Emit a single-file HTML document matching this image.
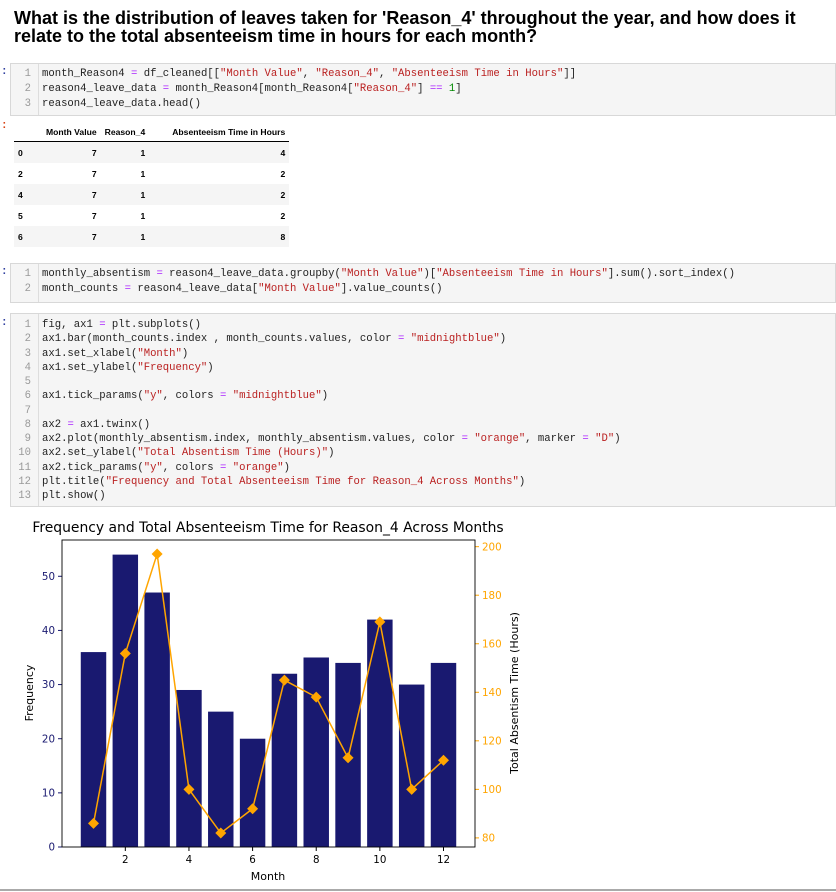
<!DOCTYPE html>
<html><head><meta charset="utf-8"><style>
body{margin:0;width:836px;height:892px;background:#fff;position:relative;overflow:hidden;font-family:"Liberation Sans",sans-serif}
.abs{position:absolute}
h1{position:absolute;left:14px;top:10px;margin:0;font-size:18px;line-height:17.5px;font-weight:bold;color:#000;width:820px}
.cell{position:absolute;left:10px;right:0;background:#f5f5f5;border:1px solid #d8d8d8}
.gut{position:absolute;left:0;top:0;bottom:0;width:27px;border-right:1px solid #ddd}
.ln{position:absolute;font-family:"Liberation Mono",monospace;font-size:10.6px;white-space:pre;color:#222}
.num{color:#999;width:20px;text-align:right;left:0}
.s{color:#ba2121}.o{color:#aa22ff}.n{color:#080}
.prompt{position:absolute;left:1px;font-family:"Liberation Mono",monospace;font-size:11px;color:#303f9f;font-weight:bold}
table{position:absolute;left:14px;top:122px;border-collapse:collapse;font-size:8.6px;font-weight:bold;color:#000}
th{padding:0 4px;height:19px;text-align:right;border-bottom:1px solid #000}
td{padding:0 4px;height:21px;text-align:right}
tr.g td{background:#f5f5f5}
td.i{text-align:left;width:20px}
</style></head><body>
<h1>What is the distribution of leaves taken for 'Reason_4' throughout the year, and how does it relate to the total absenteeism time in hours for each month?</h1>

<div class="prompt" style="top:66px">:</div>
<div class="cell" style="top:63px;height:51px">
<div class="gut"></div>
<div class="ln num" style="top:4px">1</div><div class="ln" style="left:31px;top:4px">month_Reason4 <span class="o">=</span> df_cleaned[[<span class="s">"Month Value"</span>, <span class="s">"Reason_4"</span>, <span class="s">"Absenteeism Time in Hours"</span>]]</div>
<div class="ln num" style="top:19px">2</div><div class="ln" style="left:31px;top:19px">reason4_leave_data <span class="o">=</span> month_Reason4[month_Reason4[<span class="s">"Reason_4"</span>] <span class="o">==</span> <span class="n">1</span>]</div>
<div class="ln num" style="top:34px">3</div><div class="ln" style="left:31px;top:34px">reason4_leave_data.head()</div>
</div>
<div class="prompt" style="top:120px;color:#d84315">:</div>
<table>
<tr><th></th><th>Month Value</th><th>Reason_4</th><th style="width:132px">Absenteeism Time in Hours</th></tr>
<tr class="g"><td class="i">0</td><td>7</td><td>1</td><td>4</td></tr>
<tr><td class="i">2</td><td>7</td><td>1</td><td>2</td></tr>
<tr class="g"><td class="i">4</td><td>7</td><td>1</td><td>2</td></tr>
<tr><td class="i">5</td><td>7</td><td>1</td><td>2</td></tr>
<tr class="g"><td class="i">6</td><td>7</td><td>1</td><td>8</td></tr>
</table>

<div class="prompt" style="top:266px">:</div>
<div class="cell" style="top:263px;height:38px">
<div class="gut"></div>
<div class="ln num" style="top:4px">1</div><div class="ln" style="left:31px;top:4px">monthly_absentism <span class="o">=</span> reason4_leave_data.groupby(<span class="s">"Month Value"</span>)[<span class="s">"Absenteeism Time in Hours"</span>].sum().sort_index()</div>
<div class="ln num" style="top:19px">2</div><div class="ln" style="left:31px;top:19px">month_counts <span class="o">=</span> reason4_leave_data[<span class="s">"Month Value"</span>].value_counts()</div>
</div>

<div class="prompt" style="top:317px">:</div>
<div class="cell" style="top:313px;height:192px">
<div class="gut"></div>
<div id="c3"></div>
</div>

<svg class="abs" style="left:0;top:510px" width="836" height="382" font-family="DejaVu Sans, Liberation Sans, sans-serif">
<text x="268" y="22" font-size="13.9" text-anchor="middle" fill="#000">Frequency and Total Absenteeism Time for Reason_4 Across Months</text>
<g id="bars"></g><g id="axes"></g><g id="line"></g>
<rect x="62" y="30" width="413" height="307" fill="none" stroke="#000" stroke-width="0.9"/>
<text x="268" y="370" font-size="11" text-anchor="middle">Month</text>
<text transform="translate(33,183) rotate(-90)" font-size="11" text-anchor="middle">Frequency</text>
<text transform="translate(518,183) rotate(-90)" font-size="11" text-anchor="middle">Total Absentism Time (Hours)</text>
<line x1="0" y1="380" x2="836" y2="380" stroke="#aaa" stroke-width="2"/>
</svg>
<script>
const codeLines=[
'fig, ax1 = plt.subplots()',
'ax1.bar(month_counts.index , month_counts.values, color = "midnightblue")',
'ax1.set_xlabel("Month")',
'ax1.set_ylabel("Frequency")',
'',
'ax1.tick_params("y", colors = "midnightblue")',
'',
'ax2 = ax1.twinx()',
'ax2.plot(monthly_absentism.index, monthly_absentism.values, color = "orange", marker = "D")',
'ax2.set_ylabel("Total Absentism Time (Hours)")',
'ax2.tick_params("y", colors = "orange")',
'plt.title("Frequency and Total Absenteeism Time for Reason_4 Across Months")',
'plt.show()'];
const c3=document.getElementById('c3');
codeLines.forEach((t,i)=>{
  const esc=t.replace(/&/g,'&amp;').replace(/</g,'&lt;').replace(/("[^"]*")/g,'<span class="s">$1</span>').replace(/ = /g,' <span class="o">=</span> ');
  const top=5+i*14.25;
  c3.insertAdjacentHTML('beforeend','<div class="ln num" style="top:'+top+'px">'+(i+1)+'</div><div class="ln" style="left:31px;top:'+top+'px">'+esc+'</div>');
});

const months=[1,2,3,4,5,6,7,8,9,10,11,12];
const freq=[36,54,47,29,25,20,32,35,34,42,30,34];
const hours=[86,156,197,100,82,92,145,138,113,169,100,112];
const leftTicks=[0,10,20,30,40,50];
const rightTicks=[80,100,120,140,160,180,200];
const xTicks=[2,4,6,8,10,12];
const NS='http://www.w3.org/2000/svg';
const X0=62,X1=475,YT=30,YB=337;
const xmin=0.01,xmax=12.99;
const sx=v=>X0+(v-xmin)/(xmax-xmin)*(X1-X0);
const y1max=56.7;
const sy1=v=>YB-v/y1max*(YB-YT);
const y2min=76.25,y2max=202.75;
const sy2=v=>YB-(v-y2min)/(y2max-y2min)*(YB-YT);
function mk(tag,attrs,parent){const e=document.createElementNS(NS,tag);for(const k in attrs)e.setAttribute(k,attrs[k]);parent.appendChild(e);return e;}
const gb=document.getElementById('bars'),ga=document.getElementById('axes'),gl=document.getElementById('line');
const bw=sx(0.8)-sx(0);
months.forEach((m,i)=>{
  const r=mk('rect',{x:sx(m)-bw/2,y:sy1(freq[i]),width:bw,height:YB-sy1(freq[i]),fill:'#191970'},gb);
  
  
});
leftTicks.forEach(t=>{
  const y=sy1(t);
  mk('line',{x1:X0-4,x2:X0,y1:y,y2:y,stroke:'#191970'},ga);
  const tx=mk('text',{x:X0-7,y:y+3.6,'font-size':10.3,'text-anchor':'end',fill:'#191970'},ga);tx.textContent=t;
  
  
});
rightTicks.forEach(t=>{
  const y=sy2(t);
  mk('line',{x1:X1,x2:X1+4,y1:y,y2:y,stroke:'#ffa500'},ga);
  const tx=mk('text',{x:X1+7,y:y+3.6,'font-size':10.3,fill:'#ffa500'},ga);tx.textContent=t;
  
  
});
xTicks.forEach(t=>{
  const x=sx(t);
  mk('line',{x1:x,x2:x,y1:YB,y2:YB+4,stroke:'#000'},ga);
  const tx=mk('text',{x:x,y:YB+16,'font-size':10.3,'text-anchor':'middle',fill:'#000'},ga);tx.textContent=t;
  
  
});
const pl=mk('polyline',{points:months.map((m,i)=>sx(m)+','+sy2(hours[i])).join(' '),fill:'none',stroke:'#ffa500','stroke-width':1.5},gl);


months.forEach((m,i)=>{
  const x=sx(m),y=sy2(hours[i]),d=5.5;
  const p=mk('polygon',{points:`${x},${y-d} ${x+d},${y} ${x},${y+d} ${x-d},${y}`,fill:'#ffa500'},gl);
  
  
});
</script>
</body></html>
